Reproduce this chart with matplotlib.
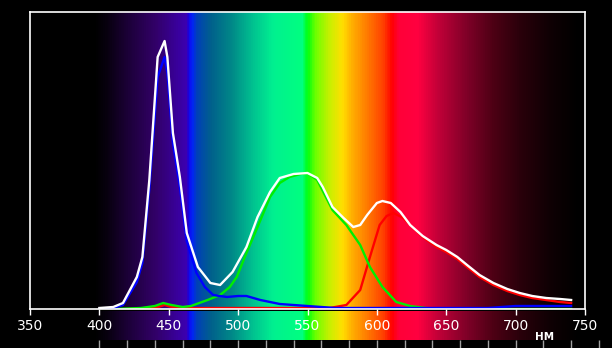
import numpy as np
import matplotlib
matplotlib.use('Agg')
import matplotlib.pyplot as plt
from matplotlib.colors import LinearSegmentedColormap

# curves (wavelength nm, relative height)
wl_white = [400, 410, 417, 427, 431, 436, 442, 447, 449, 453, 458, 463, 471, 480, 487, 496,
            506, 514, 523, 530, 540, 550, 557, 561, 568, 576, 583, 588, 593, 600, 604, 610,
            617, 624, 633, 643, 650, 658, 665, 674, 684, 694, 703, 712, 722, 732, 740]
h_white = [1, 2, 6, 32, 52, 129, 252, 268, 252, 176, 132, 76, 42, 26, 24, 37,
           62, 92, 117, 131, 135, 136, 131, 122, 102, 91, 82, 84, 94, 106, 108, 106,
           97, 84, 73, 64, 59, 52, 44, 34, 26, 20, 16, 13, 11, 10, 9]

wl_blue = [400, 410, 417, 427, 431, 436, 442, 447, 449, 453, 458, 463, 470, 476, 482, 492,
           500, 506, 516, 530, 550, 570, 600, 650, 680, 700, 740]
h_blue = [0, 1, 4, 27, 46, 120, 232, 252, 236, 166, 122, 68, 36, 22, 14, 12,
          13, 13, 9, 5, 3, 1, 1, 1, 1, 3, 3]

wl_green = [410, 430, 440, 446, 452, 460, 466, 478, 487, 494, 499, 506, 514, 523, 530, 537,
            545, 550, 557, 568, 578, 588, 595, 604, 614, 624, 635, 650, 740]
h_green = [0, 1, 3, 6, 4, 2, 3, 9, 14, 22, 32, 56, 82, 112, 126, 132,
           135, 136, 129, 99, 84, 64, 42, 22, 7, 3, 1, 0, 0]

wl_red = [420, 440, 447, 452, 460, 500, 560, 566, 578, 588, 595, 602, 607, 612, 619, 624,
          633, 643, 650, 658, 665, 674, 684, 694, 703, 712, 722, 732, 740]
h_red = [0, 1, 4, 2, 1, 1, 1, 1, 4, 19, 52, 84, 93, 96, 91, 84,
         72, 62, 57, 50, 42, 32, 24, 18, 14, 11, 9, 7, 6]

x_ticks = [350, 400, 450, 500, 550, 600, 650, 700, 750]

# spectrum background
stops = [(350, '#000000'), (396, '#000000'), (405, '#08000f'), (420, '#1c0038'),
         (440, '#320068'), (462, '#3c00b0'), (464, '#1800e0'), (466, '#0020ff'),
         (470, '#0040b8'), (480, '#00608c'), (495, '#008888'), (510, '#00c090'),
         (525, '#00f090'), (546, '#00ff80'), (550, '#00ff10'), (556, '#70ff00'),
         (566, '#c8f000'), (575, '#ffe000'), (582, '#ffb000'), (592, '#ff8000'),
         (605, '#ff4000'), (611, '#ff0000'), (616, '#ff0038'), (630, '#ff0040'),
         (645, '#c00038'), (665, '#800028'), (685, '#4c0014'), (705, '#28000a'),
         (725, '#100004'), (745, '#000000'), (770, '#000000')]
lo, hi = 350, 770
cmap = LinearSegmentedColormap.from_list(
    'spec', [((w - lo) / (hi - lo), c) for w, c in stops])

W, H = 612, 348
fig = plt.figure(figsize=(W / 100, H / 100), dpi=100, facecolor='black')

# strip below axis
x_right = 350 + (W - 30) / 1.3875
ax2 = fig.add_axes([30 / W, 0, (W - 30) / W, 37 / H], zorder=0)
ax2.set_facecolor('black')
grad = np.linspace(lo, hi, 1200).reshape(1, -1)
ax2.imshow((grad - lo) / (hi - lo), cmap=cmap, vmin=0, vmax=1, aspect='auto',
           extent=[lo, hi, 8, 37])
ax2.vlines(np.arange(400, 780, 20), 0, 8, color='#a0a0a0', lw=1)
ax2.set_xlim(350, x_right)
ax2.set_ylim(0, 37)
ax2.axis('off')
ax2.text(721, 11, 'НМ', color='white', fontsize=7.5, fontweight='bold', ha='center', va='center')

ax = fig.add_axes([30 / W, 1 - 309 / H, 555 / W, 297 / H], zorder=1)
ax.imshow((grad - lo) / (hi - lo), cmap=cmap, vmin=0, vmax=1, aspect='auto',
          extent=[lo, hi, 0, 297])
ax.plot(wl_red, h_red, color='#ff0000', lw=1.7)
ax.plot(wl_green, h_green, color='#00ee00', lw=1.7)
ax.plot(wl_blue, h_blue, color='#0000ff', lw=1.7)
ax.plot(wl_white, h_white, color='white', lw=1.7)
ax.set_xlim(350, 750)
ax.set_ylim(0, 297)
ax.set_xticks(x_ticks)
ax.set_yticks([])
ax.tick_params(axis='x', colors='white', length=4, width=1, labelsize=10, pad=3)
for s in ax.spines.values():
    s.set_color('white')
    s.set_linewidth(1.2)
ax.patch.set_alpha(0)

plt.savefig('out.png', dpi=100, facecolor='black')
